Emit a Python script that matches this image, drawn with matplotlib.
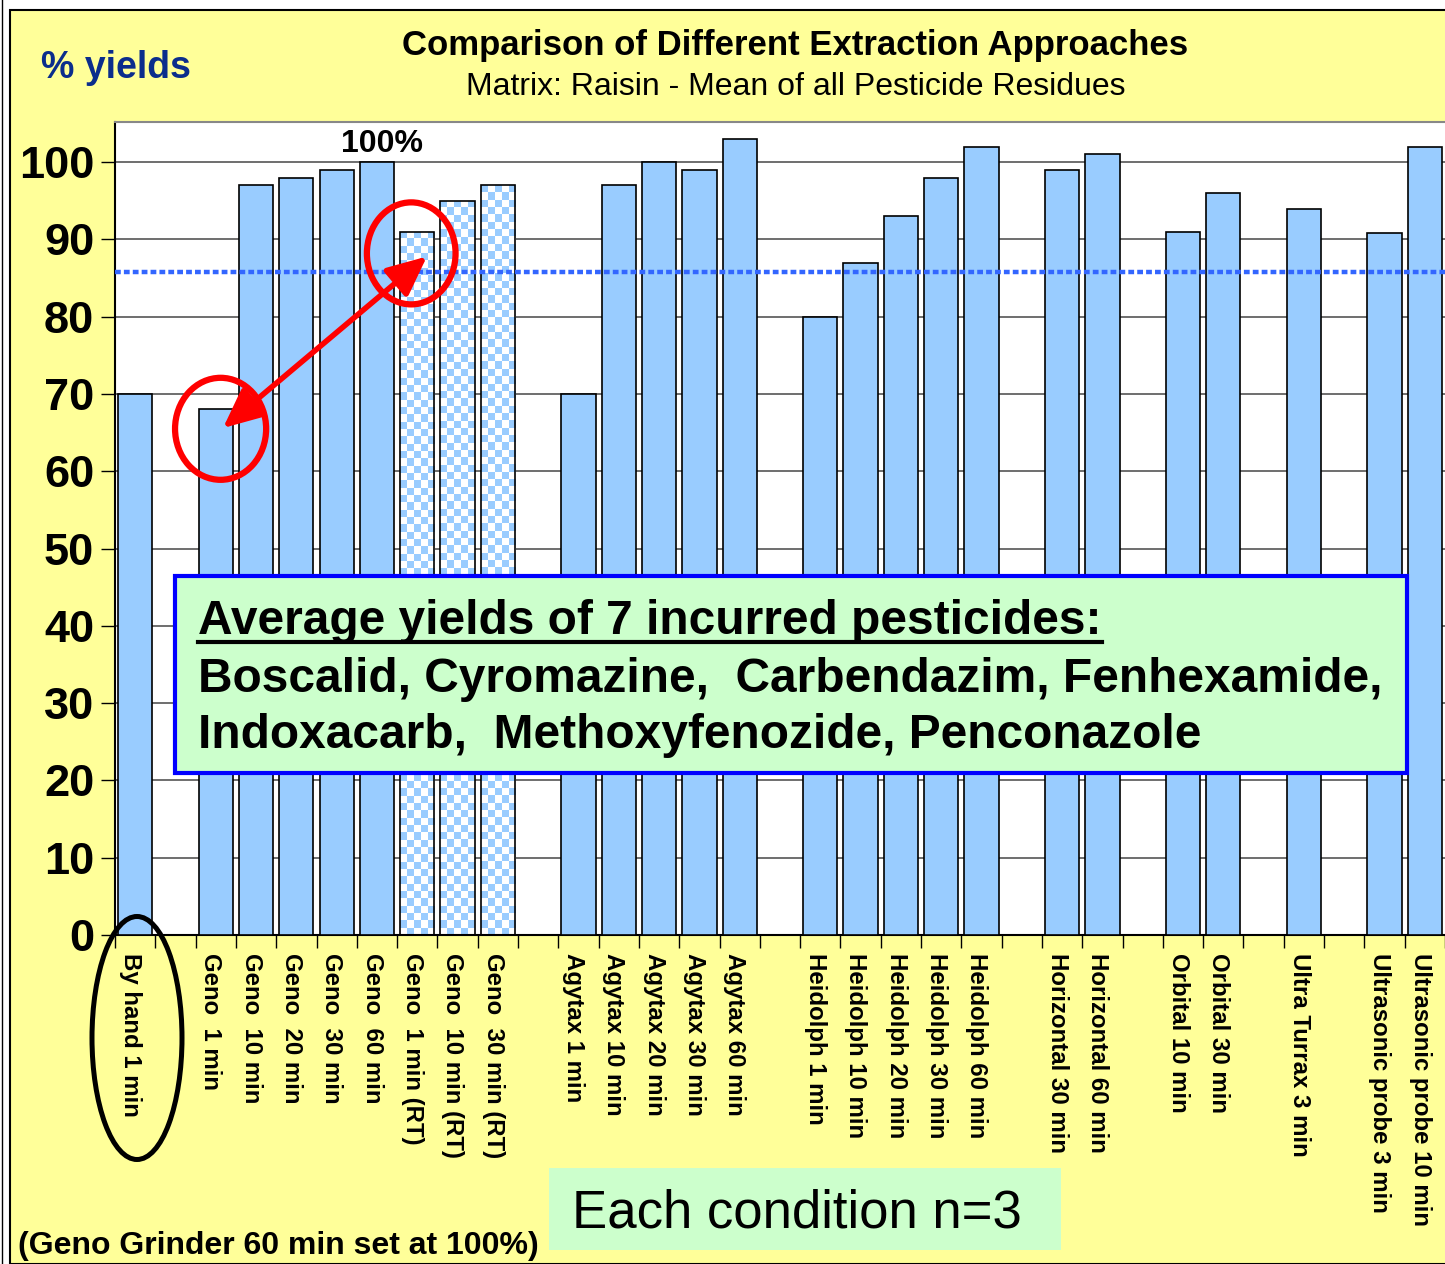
import numpy as np
import matplotlib
matplotlib.use("Agg")
import matplotlib.pyplot as plt
from matplotlib.patches import Rectangle, Ellipse, FancyArrowPatch
from matplotlib.lines import Line2D
from matplotlib.colors import ListedColormap

plt.rcParams['font.family'] = ['Liberation Sans', 'DejaVu Sans']

# ---------------- data ----------------
labels = ["By hand 1 min", "",
          "Geno  1 min", "Geno  10 min", "Geno  20 min", "Geno  30 min", "Geno  60 min",
          "Geno  1 min (RT)", "Geno  10 min (RT)", "Geno  30 min (RT)", "",
          "Agytax 1 min", "Agytax 10 min", "Agytax 20 min", "Agytax 30 min", "Agytax 60 min", "",
          "Heidolph 1 min", "Heidolph 10 min", "Heidolph 20 min", "Heidolph 30 min", "Heidolph 60 min", "",
          "Horizontal 30 min", "Horizontal 60 min", "",
          "Orbital 10 min", "Orbital 30 min", "",
          "Ultra Turrax 3 min", "",
          "Ultrasonic probe 3 min", "Ultrasonic probe 10 min"]
values = [70, None,
          68, 97, 98, 99, 100,
          91, 95, 97, None,
          70, 97, 100, 99, 103, None,
          80, 87, 93, 98, 102, None,
          99, 101, None,
          91, 96, None,
          94, None,
          90.8, 102]
reference_line = 85.8
yticks = list(range(0, 101, 10))

# ---------------- figure ----------------
W, H = 1445, 1264
fig = plt.figure(figsize=(W / 100, H / 100), dpi=100, facecolor='white')

def fx(px):
    return px / W

def fy(py):
    return 1 - py / H

# yellow slide background with black border
fig.add_artist(Rectangle((fx(10), 0), 1.2, fy(10), transform=fig.transFigure,
                         facecolor='#FFFF99', edgecolor='black', lw=1.5, zorder=0))
fig.add_artist(Line2D([fx(2), fx(2)], [0, 1], transform=fig.transFigure, color='black', lw=1))

ax = fig.add_axes([fx(115), fy(935), 1 - fx(115), fy(122) - fy(935)])
ax.set_facecolor('white')

xs = np.arange(len(labels))
bar_x = [x for x, v in zip(xs, values) if v is not None]
bar_v = [v for v in values if v is not None]
bar_l = [l for l, v in zip(labels, values) if v is not None]
is_rt = ['(RT)' in l for l in bar_l]

solid_x = [x for x, r in zip(bar_x, is_rt) if not r]
solid_v = [v for v, r in zip(bar_v, is_rt) if not r]
rt_x = [x for x, r in zip(bar_x, is_rt) if r]
rt_v = [v for v, r in zip(bar_v, is_rt) if r]

bw = 0.85
ax.bar(solid_x, solid_v, width=bw, color='#99CCFF', edgecolor='black', lw=1.2, zorder=3)
rt_bars = ax.bar(rt_x, rt_v, width=bw, facecolor='none', edgecolor='black', lw=1.2, zorder=3)

checker_cmap = ListedColormap(['#FFFFFF', '#99CCFF'])
for r in rt_bars:
    x0, w, h = r.get_x(), r.get_width(), r.get_height()
    ncols = 5
    nrows = max(1, int(round(h / 0.95)))
    grid = (np.add.outer(np.arange(nrows), np.arange(ncols)) % 2).astype(float)
    im = ax.imshow(grid, cmap=checker_cmap, extent=(x0, x0 + w, 0, h), aspect='auto',
                   interpolation='nearest', zorder=2.5, origin='lower')
    im.set_clip_path(r)

ax.axhline(reference_line, color='#3366FF', lw=3.2, linestyle=(0, (1.3, 0.7)), zorder=4)

ax.set_xlim(-0.5, len(labels) - 0.5)
ax.set_ylim(0, 105.2)

ax.set_yticks(yticks)
ax.set_yticklabels([str(t) for t in yticks], fontsize=32.5, fontweight='bold')
ax.tick_params(axis='y', direction='out', length=10, width=1, pad=5, color='black')
ax.yaxis.grid(True, color='#555555', lw=1.2, zorder=0.5)
ax.set_axisbelow(True)

ax.set_xticks(xs - 0.12)
ax.set_xticklabels(labels, rotation=270, fontsize=17.3, fontweight='bold', va='top', ha='center')
ax.set_xticks(np.arange(-0.5, len(labels), 1.0), minor=True)
ax.tick_params(axis='x', which='major', length=0, pad=13)
ax.tick_params(axis='x', which='minor', length=9, width=1, direction='out', color='black')

for s in ['left', 'bottom']:
    ax.spines[s].set_color('black')
    ax.spines[s].set_linewidth(1.5)
ax.spines['top'].set_color('#888888')
ax.spines['top'].set_linewidth(1.5)
ax.spines['right'].set_visible(False)

# 100% label above Geno 60 min
geno60 = labels.index("Geno  60 min")
ax.text(geno60 + 0.12, 102.3, "100%", ha='center', va='center', fontsize=23, fontweight='bold',
        zorder=6)

# red circles and double arrow
ax.add_patch(Ellipse((2.12, 65.5), 2.26, 13.2, fill=False, edgecolor='#FF0000', lw=4.5,
                     zorder=7, clip_on=False))
ax.add_patch(Ellipse((6.85, 88.2), 2.2, 13.2, fill=False, edgecolor='#FF0000', lw=4.5,
                     zorder=7, clip_on=False))
ax.add_patch(FancyArrowPatch((2.18, 65.6), (7.24, 87.8),
                             arrowstyle='<|-|>,head_length=24,head_width=11',
                             mutation_scale=1, color='#FF0000', lw=4,
                             shrinkA=0, shrinkB=0, zorder=7))

# titles
fig.text(fx(116), fy(68), "% yields", ha='center', va='center', fontsize=27,
         fontweight='bold', color='#0B2D8C')
fig.text(fx(795), fy(46), "Comparison of Different Extraction Approaches", ha='center',
         va='center', fontsize=25, fontweight='bold')
fig.text(fx(796), fy(87), "Matrix: Raisin - Mean of all Pesticide Residues", ha='center',
         va='center', fontsize=23)

# green info box
fig.add_artist(Rectangle((fx(175), fy(773)), fx(1407) - fx(175), fy(576) - fy(773),
                         transform=fig.transFigure, facecolor='#CCFFCC', edgecolor='#0000FF',
                         lw=3, zorder=10))
t1 = fig.text(fx(198), fy(634), "Average yields of 7 incurred pesticides:", ha='left',
              va='baseline', fontsize=34.5, fontweight='bold', zorder=11)
fig.text(fx(198), fy(692), "Boscalid, Cyromazine,  Carbendazim, Fenhexamide,", ha='left',
         va='baseline', fontsize=34.5, fontweight='bold', zorder=11)
fig.text(fx(198), fy(748), "Indoxacarb,  Methoxyfenozide, Penconazole", ha='left',
         va='baseline', fontsize=34.5, fontweight='bold', zorder=11)

fig.canvas.draw()
bb = t1.get_window_extent(fig.canvas.get_renderer())
fig.add_artist(Line2D([fx(bb.x0), fx(bb.x1)], [fy(642), fy(642)], transform=fig.transFigure,
                      color='black', lw=3, zorder=11))

# n=3 box
fig.add_artist(Rectangle((fx(549), fy(1250)), fx(1061) - fx(549), fy(1168) - fy(1250),
                         transform=fig.transFigure, facecolor='#CCFFCC', edgecolor='none',
                         zorder=5))
fig.text(fx(572), fy(1214), "Each condition n=3", ha='left', va='center', fontsize=38, zorder=6)

fig.text(fx(18), fy(1246), "(Geno Grinder 60 min set at 100%)", ha='left', va='center',
         fontsize=23, fontweight='bold')

# black ellipse around "By hand 1 min"
fig.add_artist(Ellipse((fx(137), fy(1038)), 90 / W, 243 / H, transform=fig.transFigure,
                       fill=False, edgecolor='black', lw=3.6, zorder=8))

fig.savefig("out.png", dpi=100, facecolor=fig.get_facecolor())
